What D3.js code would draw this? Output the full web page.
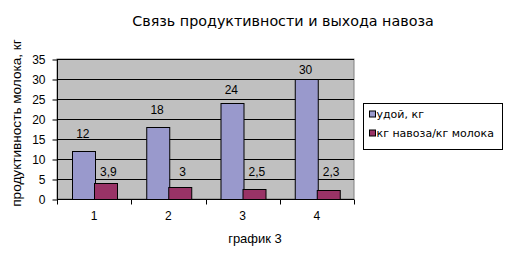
<!DOCTYPE html>
<html>
<head>
<meta charset="utf-8">
<script src="https://cdn.jsdelivr.net/npm/d3@7"></script>
<style>
  body { margin: 0; background: #fff; }
  svg { display: block; }
</style>
</head>
<body>
<svg width="510" height="254"></svg>
<script>
var categories = ["1", "2", "3", "4"];
var seriesNames = ["удой, кг", "кг навоза/кг молока"];
var milkYield = [12, 18, 24, 30];
var manurePerMilk = [3.9, 3, 2.5, 2.3];
var yTicks = [0, 5, 10, 15, 20, 25, 30, 35];
var colors = ["#9999cc", "#993366"];

var svg = d3.select("svg");
var margin = {left: 57, top: 59, right: 156, bottom: 55};
var width = 510, height = 254;

var x = d3.scaleBand().domain(categories)
  .range([margin.left, width - margin.right]).padding(0);
var xInner = d3.scaleBand().domain([0, 1])
  .range([0, x.bandwidth()]).paddingOuter(0.65).paddingInner(0);
var y = d3.scaleLinear().domain([0, 35])
  .range([height - margin.bottom, margin.top]);

var data = categories.map(function(c, i) {
  return {cat: c, values: [milkYield[i], manurePerMilk[i]]};
});

// plot area
svg.append("rect")
  .attr("x", margin.left).attr("y", margin.top)
  .attr("width", x.range()[1] - margin.left)
  .attr("height", y(0) - margin.top)
  .attr("fill", "#c0c0c0")
  .attr("stroke", "#808080");

// gridlines
svg.append("g").selectAll("line")
  .data(yTicks.slice(1))
  .enter().append("line")
  .attr("x1", margin.left).attr("x2", x.range()[1])
  .attr("y1", function(d) { return Math.round(y(d)) + 0.5; })
  .attr("y2", function(d) { return Math.round(y(d)) + 0.5; })
  .attr("stroke", "#000");

// bars
var groups = svg.append("g").selectAll("g")
  .data(data)
  .enter().append("g")
  .attr("transform", function(d) { return "translate(" + x(d.cat) + ",0)"; });

groups.selectAll("rect")
  .data(function(d) { return d.values; })
  .enter().append("rect")
  .attr("x", function(d, i) { return Math.round(xInner(i)) + 0.5; })
  .attr("y", function(d) { return Math.round(y(d)) + 0.5; })
  .attr("width", Math.round(xInner.bandwidth()))
  .attr("height", function(d) { return Math.round(y(0)) - Math.round(y(d)); })
  .attr("fill", function(d, i) { return colors[i]; })
  .attr("stroke", "#000");

// value labels
var blueOffset = d3.scaleLinear().domain([18, 30]).range([17, 9]).clamp(true);
groups.selectAll("text")
  .data(function(d) { return d.values; })
  .enter().append("text")
  .attr("x", function(d, i) { return xInner(i) + xInner.bandwidth() / 2 + (i === 1 ? 3 : 0); })
  .attr("y", function(d, i) {
    if (i === 0) return y(d) - blueOffset(d);
    return Math.min(y(d) - 11, y(6.7));
  })
  .attr("dy", "0.35em")
  .attr("text-anchor", "middle")
  .attr("font-family", "Liberation Sans, Arial, sans-serif")
  .attr("font-size", 12)
  .attr("fill", "#000")
  .text(function(d) { return String(d).replace(".", ","); });

// y axis
var yAxis = svg.append("g")
  .attr("transform", "translate(" + (margin.left + 0.5) + ",0.5)")
  .call(d3.axisLeft(y).tickValues(yTicks).tickSize(5).tickPadding(7));
yAxis.selectAll("text")
  .attr("font-family", "Liberation Sans, Arial, sans-serif")
  .attr("font-size", 12).attr("fill", "#000");
yAxis.selectAll("line, path").attr("stroke", "#000");
yAxis.select(".domain").attr("d", "M0," + y(35) + "V" + y(0));

// x axis
var xAxis = svg.append("g")
  .attr("transform", "translate(0," + (Math.round(y(0)) + 0.5) + ")")
  .call(d3.axisBottom(x).tickSize(0).tickPadding(12));
xAxis.select(".domain").attr("stroke", "#000")
  .attr("d", "M" + margin.left + ",0H" + x.range()[1]);
xAxis.selectAll("text")
  .attr("font-family", "Liberation Sans, Arial, sans-serif")
  .attr("font-size", 12).attr("fill", "#000");
xAxis.append("g").selectAll("line")
  .data(categories.concat(["end"]))
  .enter().append("line")
  .attr("x1", function(d, i) { return Math.round(margin.left + i * x.bandwidth()) + 0.5; })
  .attr("x2", function(d, i) { return Math.round(margin.left + i * x.bandwidth()) + 0.5; })
  .attr("y1", 0).attr("y2", 5)
  .attr("stroke", "#000");

// title
svg.append("text")
  .attr("x", 283).attr("y", 26)
  .attr("text-anchor", "middle")
  .attr("font-family", "DejaVu Sans, Verdana, sans-serif")
  .attr("font-size", 14.3)
  .attr("fill", "#000")
  .text("Связь продуктивности и выхода навоза");

// axis titles
svg.append("text")
  .attr("x", 255).attr("y", 243)
  .attr("text-anchor", "middle")
  .attr("font-family", "Liberation Sans, Arial, sans-serif")
  .attr("font-size", 13)
  .attr("fill", "#000")
  .text("график 3");

svg.append("text")
  .attr("transform", "translate(21,123) rotate(-90)")
  .attr("text-anchor", "middle")
  .attr("font-family", "Liberation Sans, Arial, sans-serif")
  .attr("font-size", 13.6)
  .attr("fill", "#000")
  .text("продуктивность молока, кг");

// legend
var legend = svg.append("g").attr("transform", "translate(363.5,103.5)");
legend.append("rect")
  .attr("width", 139).attr("height", 46)
  .attr("fill", "#fff").attr("stroke", "#000");
var items = legend.selectAll(".item")
  .data(seriesNames)
  .enter().append("g")
  .attr("transform", function(d, i) { return "translate(6," + (11 + i * 19) + ")"; });
items.append("rect")
  .attr("x", 0).attr("y", -3.5)
  .attr("width", 6).attr("height", 6)
  .attr("fill", function(d, i) { return colors[i]; })
  .attr("stroke", "#000");
items.append("text")
  .attr("x", 7).attr("dy", "0.35em")
  .attr("font-family", "DejaVu Sans, Verdana, sans-serif")
  .attr("font-size", 11)
  .attr("fill", "#000")
  .text(function(d) { return d; });
</script>
</body>
</html>
